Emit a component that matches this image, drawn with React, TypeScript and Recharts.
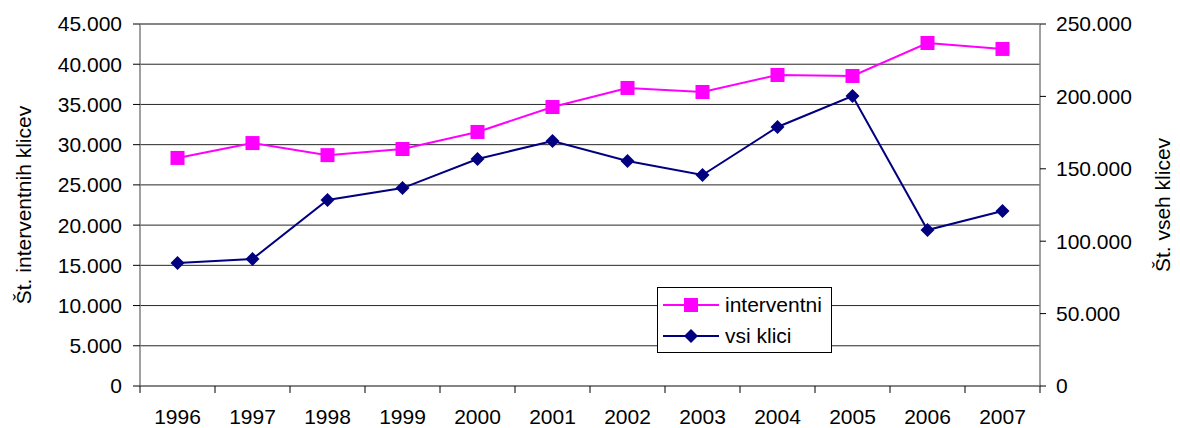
import * as React from "react";
import {
  LineChart,
  Line,
  XAxis,
  YAxis,
  CartesianGrid,
  ReferenceLine,
  Legend
} from "recharts";

const years = ["1996", "1997", "1998", "1999", "2000", "2001", "2002", "2003", "2004", "2005", "2006", "2007"];
const interventni = [28350, 30200, 28700, 29460, 31580, 34680, 37050, 36550, 38660, 38540, 42640, 41900];
const vsiKlici = [85000, 87700, 128500, 136700, 156800, 169200, 155400, 145700, 178900, 200300, 107700, 120900];
const leftTicks = [0, 5000, 10000, 15000, 20000, 25000, 30000, 35000, 40000, 45000];
const rightTicks = [0, 50000, 100000, 150000, 200000, 250000];
const bandEdges = [0, 1, 2, 3, 4, 5, 6, 7, 8, 9, 10, 11, 12];
const bandCenters = years.map((_, i) => i + 0.5);

const data = years.map((year, i) => ({
  pos: i + 0.5,
  year,
  interventni: interventni[i],
  vsi: vsiKlici[i]
}));

const MAGENTA = "#FF00FF";
const NAVY = "#000080";
const AXIS = "#808080";
const FONT = "'Liberation Sans', Arial, sans-serif";

const fmt = (v: number) => String(v).replace(/\B(?=(\d{3})+(?!\d))/g, ".");

const tickStyle = { fill: "#000", fontSize: 21, fontFamily: FONT };

function Square(props: any) {
  const { cx, cy } = props;
  if (cx == null || cy == null) return null;
  return <rect x={cx - 7} y={cy - 7} width={14} height={14} fill={MAGENTA} />;
}

function Diamond(props: any) {
  const { cx, cy } = props;
  if (cx == null || cy == null) return null;
  return (
    <polygon
      points={`${cx},${cy - 7} ${cx + 7},${cy} ${cx},${cy + 7} ${cx - 7},${cy}`}
      fill={NAVY}
    />
  );
}

const legendItems = [
  { name: "interventni", color: MAGENTA, marker: "square" },
  { name: "vsi klici", color: NAVY, marker: "diamond" }
];

function LegendBox() {
  return (
    <div
      style={{
        border: "1px solid #000",
        background: "#fff",
        width: 173,
        height: 64,
        boxSizing: "content-box",
        fontFamily: FONT,
        fontSize: 21
      }}
    >
      {legendItems.map((it) => (
        <div key={it.name} style={{ display: "flex", alignItems: "center", height: 33, marginTop: it.marker === "square" ? 0 : -2 }}>
          <svg width={62} height={20} style={{ marginLeft: 5 }}>
            <line x1={0} y1={10} x2={56} y2={10} stroke={it.color} strokeWidth={2} />
            {it.marker === "square" ? (
              <rect x={21} y={3} width={14} height={14} fill={it.color} />
            ) : (
              <polygon points="28,3 35,10 28,17 21,10" fill={it.color} />
            )}
          </svg>
          <span style={{ lineHeight: "21px" }}>{it.name}</span>
        </div>
      ))}
    </div>
  );
}

export default function App() {
  return (
    <div style={{ position: "absolute", left: 0, top: 0, background: "#fff" }}>
      <LineChart
        width={1180}
        height={428}
        data={data}
        margin={{ top: 24, right: 0, bottom: 0, left: 0 }}
      >
        <CartesianGrid xAxisId="a" yAxisId="left" vertical={false} stroke="#000" strokeOpacity={0.85} />
        <XAxis
          xAxisId="a"
          dataKey="pos"
          type="number"
          domain={[0, 12]}
          ticks={bandEdges}
          interval={0}
          tickFormatter={() => ""}
          height={8}
          tickSize={7}
          stroke={AXIS}
          axisLine={{ stroke: AXIS, strokeWidth: 1.5 }}
          tickLine={{ stroke: "#000" }}
        />
        <XAxis
          xAxisId="b"
          dataKey="pos"
          type="number"
          domain={[0, 12]}
          ticks={bandCenters}
          interval={0}
          tickFormatter={(v: number) => years[Math.floor(v)]}
          height={34}
          tickSize={0}
          tickMargin={15}
          axisLine={false}
          tickLine={false}
          tick={tickStyle}
        />
        <YAxis
          yAxisId="left"
          domain={[0, 45000]}
          ticks={leftTicks}
          interval={0}
          width={140}
          tickSize={7}
          tickMargin={11}
          tickFormatter={fmt}
          tick={tickStyle}
          axisLine={{ stroke: AXIS, strokeWidth: 1.5 }}
          tickLine={{ stroke: "#000" }}
          label={{
            value: "Št. interventnih klicev",
            angle: -90,
            position: "insideLeft",
            offset: 24,
            style: { textAnchor: "middle", fontSize: 21, fontFamily: FONT, fill: "#000" }
          }}
        />
        <YAxis
          yAxisId="right"
          orientation="right"
          domain={[0, 250000]}
          ticks={rightTicks}
          interval={0}
          width={140}
          tickSize={6}
          tickMargin={10}
          tickFormatter={fmt}
          tick={tickStyle}
          axisLine={{ stroke: AXIS, strokeWidth: 1.5 }}
          tickLine={{ stroke: "#000" }}
          label={{
            value: "Št. vseh klicev",
            angle: -90,
            position: "insideRight",
            offset: 17,
            style: { textAnchor: "middle", fontSize: 21, fontFamily: FONT, fill: "#000" }
          }}
        />
        <ReferenceLine xAxisId="a" yAxisId="left" y={45000} stroke={AXIS} strokeWidth={1.5} />
        <Line
          xAxisId="a"
          yAxisId="left"
          dataKey="interventni"
          name="interventni"
          stroke={MAGENTA}
          strokeWidth={2}
          dot={<Square />}
          activeDot={false}
          isAnimationActive={false}
        />
        <Line
          xAxisId="a"
          yAxisId="right"
          dataKey="vsi"
          name="vsi klici"
          stroke={NAVY}
          strokeWidth={2}
          dot={<Diamond />}
          activeDot={false}
          isAnimationActive={false}
        />
        <Legend
          layout="vertical"
          align="center"
          verticalAlign="middle"
          content={() => <LegendBox />}
          wrapperStyle={{ left: 657, top: 287, width: 175, height: 66 }}
        />
      </LineChart>
    </div>
  );
}
